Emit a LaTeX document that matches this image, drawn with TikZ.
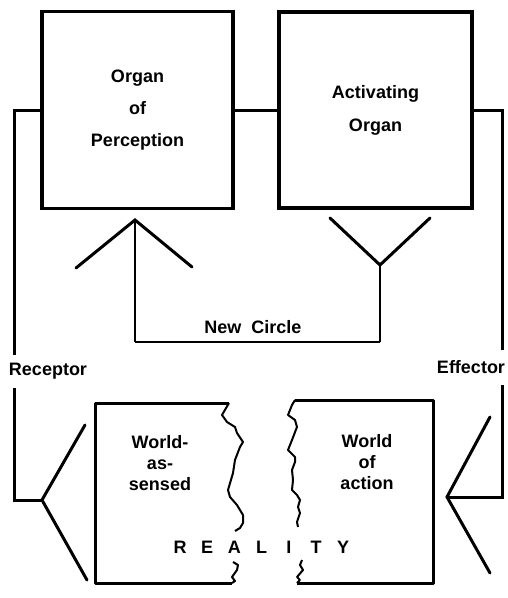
\documentclass[tikz,border=0pt]{standalone}
\usepackage{fontspec}
\setmainfont{Liberation Sans}
\usetikzlibrary{positioning}

\begin{document}
\begin{tikzpicture}[x=1pt,y=-1pt,font=\bfseries\fontsize{18}{32}\selectfont,
 box/.style={draw,line width=3.2pt,align=center,inner sep=0pt},
 lab/.style={inner sep=1pt,align=center},
 wire/.style={line width=3pt},
 stem/.style={line width=1.6pt},
 fork/.style={line width=3pt,line cap=round},
 rim/.style={line width=2pt,line join=round}]
\useasboundingbox (0,0) rectangle (507,598);
% the two organs
\node[box,minimum width=191pt,minimum height=197pt] (perc) at (137.5,110) {Organ\\of\\Perception};
\node[box,minimum width=193pt,minimum height=196pt] (act) at (375.5,110) {Activating\\[1pt]Organ};
\draw[wire] (perc.east) -- (act.west);
% receptor and effector forks
\coordinate (pv) at (135,220); \coordinate (av) at (380,265);
\coordinate (rv) at (42,500); \coordinate (ev) at (447,497);
\draw[fork] (76,268) -- (pv) -- (192,267);
\draw[fork] (330,218) -- (av) -- (430,218);
\draw[fork] (85,425) -- (rv) -- (87,580);
\draw[fork] (490,417) -- (ev) -- (490,573);
% new circle
\node[lab] (newc) at (253,327) {New\ \ Circle};
\coordinate (ncl) at (135,342); \coordinate (ncr) at (380,342);
\draw[stem] (pv) -- (ncl);
\draw[line width=2.4pt] (ncl) -- (ncr);
\draw[stem] (ncr) -- (av);
% outer loop
\node[lab] (rlab) at (48,371) {Receptor};
\node[lab] (elab) at (471,367) {Effector};
\coordinate (rtop) at (14,355); \coordinate (rbot) at (14,388);
\coordinate (etop) at (502,350); \coordinate (ebot) at (502,385);
\draw[wire] (perc.west) -| (rtop);
\draw[wire] (rbot) |- (rv);
\draw[wire] (act.east) -| (etop);
\draw[wire] (ebot) |- (ev);
% reality, torn in two
\draw[wire,line join=round] (229,403) -- (95,403) -- (95,583) -- (232,583);
\draw[rim] (229,403) -- (222,415) -- (227,422) -- (235,427) -- (237,433) -- (243,442) -- (240,447) -- (235,460) -- (233,473) -- (228,490) -- (230,497) -- (237,505) -- (240,510) -- (243,515) -- (243,523) -- (240,528) -- (235,531);
\draw[rim] (233,562) -- (238,565) -- (237,570) -- (232,577) -- (235,581) -- (232,583);
\draw[wire,line join=round] (295,400) -- (433,400) -- (433,583) -- (297,583);
\draw[rim] (295,400) -- (292,405) -- (288,415) -- (295,420) -- (297,427) -- (292,440) -- (288,450) -- (295,457) -- (295,462) -- (292,470) -- (293,480) -- (292,490) -- (297,495) -- (300,500) -- (298,507) -- (300,513) -- (297,522) -- (298,527);
\draw[rim] (302,560) -- (300,565) -- (303,570) -- (297,577) -- (300,580) -- (297,583);
\node[lab,font=\bfseries\fontsize{18}{21}\selectfont] (sensed) at (160,463) {World-\\as-\\sensed};
\node[lab,font=\bfseries\fontsize{18}{21}\selectfont] (action) at (367,462) {World\\of\\action};
\foreach \l [count=\i from 0] in {R,E,A,L,I,T,Y}
  \node[lab] (real\i) at (180+27.2*\i,547) {\l};
\end{tikzpicture}
\end{document}
